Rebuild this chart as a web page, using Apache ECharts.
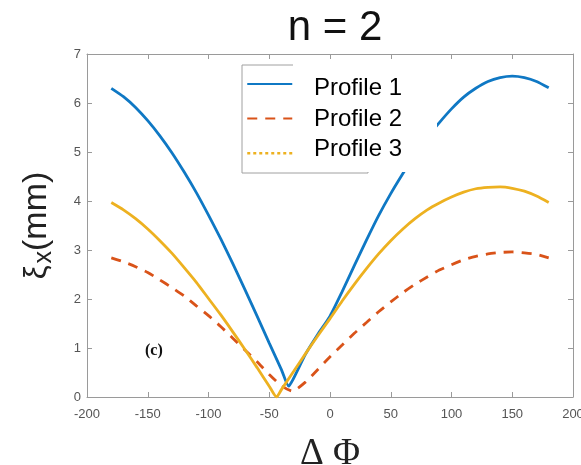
<!DOCTYPE html>
<html>
<head>
<meta charset="utf-8">
<script src="https://cdn.jsdelivr.net/npm/echarts@6/dist/echarts.min.js"></script>
<style>
  html, body { margin: 0; padding: 0; background: #ffffff; }
  #chart { width: 581px; height: 465px; }
</style>
</head>
<body>
<div id="chart"></div>
<script>
// Phase offset (degrees) and displacement amplitude (mm) for each profile
const profile1Phase = [-180,-170,-160,-150,-140,-130,-120,-110,-100,-90,-80,-70,-60,-50,-40,-34,-30,-20,-10,0,10,20,30,40,50,60,70,80,90,100,110,120,130,140,150,160,170,180];
const profile1Xi    = [6.30,6.13,5.91,5.64,5.33,4.98,4.59,4.17,3.71,3.23,2.72,2.19,1.65,1.10,0.56,0.22,0.38,0.88,1.28,1.65,2.15,2.68,3.20,3.70,4.15,4.56,4.95,5.30,5.60,5.88,6.12,6.30,6.44,6.52,6.55,6.52,6.44,6.31];

const profile2Phase = [-180,-170,-160,-150,-140,-130,-120,-110,-100,-90,-80,-70,-60,-50,-40,-31,-20,-10,0,10,20,30,40,50,60,70,80,90,100,110,120,130,140,150,160,170,180];
const profile2Xi    = [2.84,2.76,2.66,2.54,2.39,2.23,2.06,1.86,1.66,1.44,1.20,0.96,0.72,0.46,0.23,0.12,0.31,0.56,0.82,1.06,1.30,1.52,1.74,1.94,2.13,2.30,2.45,2.59,2.70,2.80,2.87,2.92,2.95,2.96,2.94,2.91,2.84];

const profile3Phase = [-180,-170,-160,-150,-140,-130,-120,-110,-100,-90,-80,-70,-60,-50,-44,-40,-30,-20,-10,0,10,20,30,40,50,60,70,80,90,100,110,120,130,140,150,160,170,180];
const profile3Xi    = [3.97,3.82,3.64,3.43,3.19,2.93,2.64,2.34,2.01,1.68,1.33,0.97,0.60,0.22,0.00,0.15,0.52,0.89,1.25,1.60,1.96,2.30,2.62,2.92,3.19,3.43,3.64,3.82,3.96,4.08,4.18,4.25,4.28,4.29,4.26,4.20,4.10,3.97];

const seriesNames = ['Profile 1', 'Profile 2', 'Profile 3'];
const chartTitle = 'n = 2';
const panelTag = '(c)';

const pairs = (xs, ys) => xs.map((x, i) => [x, ys[i]]);

const sans = "'Liberation Sans', Arial, sans-serif";
const serif = "'Liberation Serif', 'Times New Roman', serif";
const axisGray = '#9a9a9a';
const labelGray = '#555555';

const chart = echarts.init(document.getElementById('chart'), null, { renderer: 'canvas' });

const xAxisBase = {
  type: 'value', min: -200, max: 200, interval: 50,
  axisLine: { show: true, onZero: false, lineStyle: { color: axisGray, width: 1 } },
  axisTick: { show: true, inside: true, length: 5, lineStyle: { color: axisGray } },
  splitLine: { show: false }
};
const yAxisBase = {
  type: 'value', min: 0, max: 7, interval: 1,
  axisLine: { show: true, onZero: false, lineStyle: { color: axisGray, width: 1 } },
  axisTick: { show: true, inside: true, length: 5, lineStyle: { color: axisGray } },
  splitLine: { show: false }
};

chart.setOption({
  animation: false,
  backgroundColor: '#ffffff',
  title: {
    text: chartTitle,
    left: 330, top: 2, textAlign: 'center',
    textStyle: { fontFamily: sans, fontSize: 42, fontWeight: 'normal', color: '#111111' }
  },
  grid: { left: 87, right: 8, top: 54, bottom: 68, containLabel: false, outerBoundsMode: 'none' },
  xAxis: [
    Object.assign({}, xAxisBase, {
      position: 'bottom',
      axisLabel: { show: true, fontFamily: sans, fontSize: 13, color: labelGray, margin: 11 },
      name: 'Δ Φ', nameLocation: 'middle', nameGap: 39,
      nameTextStyle: { fontFamily: serif, fontSize: 37, color: '#222222' }
    }),
    Object.assign({}, xAxisBase, { position: 'top', axisLabel: { show: false } })
  ],
  yAxis: [
    Object.assign({}, yAxisBase, {
      position: 'left',
      axisLabel: { show: true, fontFamily: sans, fontSize: 13, color: labelGray, margin: 6 },
      name: '{g|ξ}{s|x}{u|(mm)}', nameLocation: 'middle', nameGap: 30, nameRotate: 90,
      nameTextStyle: {
        color: '#222222',
        rich: {
          g: { fontFamily: sans, fontSize: 31, color: '#222222', lineHeight: 40, verticalAlign: 'middle', padding: [0, 2, 0, 0] },
          s: { fontFamily: sans, fontSize: 25, color: '#222222', lineHeight: 40, verticalAlign: 'bottom', padding: [14, 0, 0, 0] },
          u: { fontFamily: sans, fontSize: 34, color: '#222222', lineHeight: 40, verticalAlign: 'middle' }
        }
      }
    }),
    Object.assign({}, yAxisBase, { position: 'right', axisLabel: { show: false } })
  ],
  legend: {
    orient: 'vertical',
    left: 246, top: 77, padding: 0,
    itemWidth: 45, itemHeight: 14, itemGap: 22,
    z: 20,
    formatter: () => '',
    itemStyle: { color: 'rgba(0,0,0,0)', borderWidth: 0, opacity: 0 },
    data: [
      { name: seriesNames[0] },
      { name: seriesNames[1] },
      { name: seriesNames[2], lineStyle: { type: [3, 3], width: 2.5 } }
    ]
  },
  series: [
    {
      name: seriesNames[0], type: 'line', symbol: 'none', z: 2, smooth: 0.2,
      data: pairs(profile1Phase, profile1Xi),
      lineStyle: { color: '#0f78c4', width: 2.8 }, itemStyle: { color: '#0f78c4' }
    },
    {
      name: seriesNames[1], type: 'line', symbol: 'none', z: 2, smooth: 0.2,
      data: pairs(profile2Phase, profile2Xi),
      lineStyle: { color: '#D95319', width: 2.8, type: [10, 8] }, itemStyle: { color: '#D95319' }
    },
    {
      name: seriesNames[2], type: 'line', symbol: 'none', z: 2, smooth: 0.2,
      data: pairs(profile3Phase, profile3Xi),
      lineStyle: { color: '#EDB120', width: 2.8 }, itemStyle: { color: '#EDB120' }
    }
  ],
  graphic: [
    // legend frame
    { type: 'rect', z: 10, shape: { x: 242, y: 65, width: 126, height: 108 },
      style: { fill: '#ffffff', stroke: '#a0a0a0', lineWidth: 1 } },
    // label panel laid over the frame
    { type: 'rect', z: 11, shape: { x: 293, y: 60, width: 144, height: 112 },
      style: { fill: '#ffffff', stroke: null } },
    { type: 'text', z: 12, left: 314, top: 76,
      style: { text: seriesNames[0], fontFamily: sans, fontSize: 24, fill: '#000000' } },
    { type: 'text', z: 12, left: 314, top: 107,
      style: { text: seriesNames[1], fontFamily: sans, fontSize: 24, fill: '#000000' } },
    { type: 'text', z: 12, left: 314, top: 137,
      style: { text: seriesNames[2], fontFamily: sans, fontSize: 24, fill: '#000000' } },
    { type: 'text', z: 12, left: 145, top: 343,
      style: { text: panelTag, fontFamily: serif, fontSize: 16, fontWeight: 'bold', fill: '#111111' } }
  ]
});
</script>
</body>
</html>
